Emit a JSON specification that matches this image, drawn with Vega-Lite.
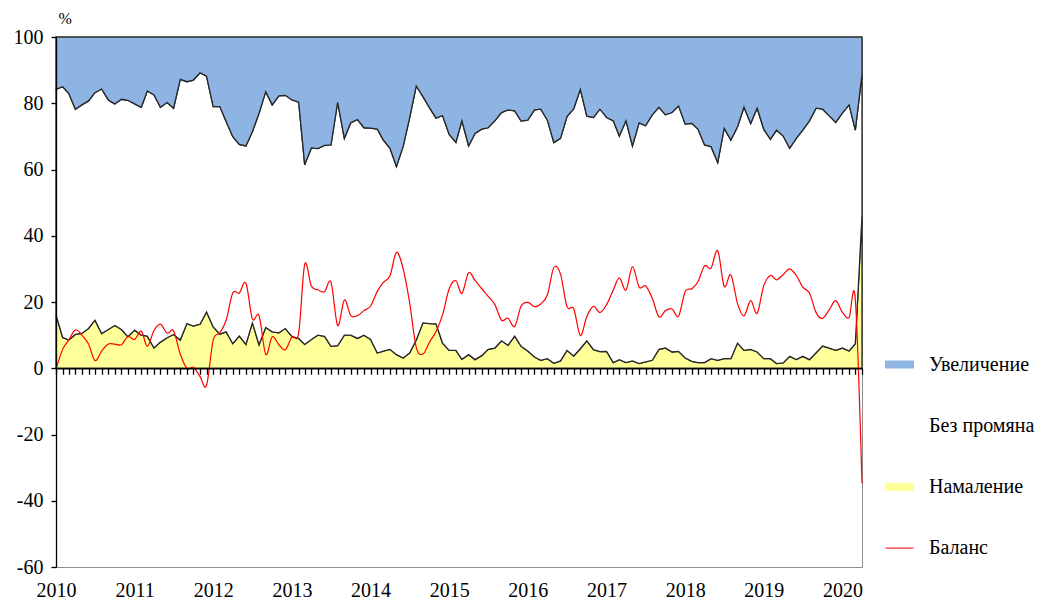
{
  "$schema": "https://vega.github.io/schema/vega-lite/v6.json",
  "width": 806,
  "height": 530,
  "autosize": "none",
  "padding": {"left": 56, "top": 37, "right": 175, "bottom": 33},
  "background": "white",
  "config": {
    "font": "Liberation Serif, Times New Roman, serif",
    "view": {"stroke": "#8c8c8c", "strokeWidth": 1},
    "axis": {"grid": false, "labelColor": "#000000", "labelFont": "Liberation Serif, Times New Roman, serif", "titleFont": "Liberation Serif, Times New Roman, serif"},
    "legend": {"labelFont": "Liberation Serif, Times New Roman, serif"}
  },
  "data": {"values": [
    {"month": "2010-01-01", "Увеличение": 15.8, "Без промяна": 68.2, "Намаление": 16.0, "Баланс": -0.2},
    {"month": "2010-02-01", "Увеличение": 15.0, "Без промяна": 75.7, "Намаление": 9.3, "Баланс": 5.7},
    {"month": "2010-03-01", "Увеличение": 17.0, "Без промяна": 74.5, "Намаление": 8.5, "Баланс": 8.5},
    {"month": "2010-04-01", "Увеличение": 21.8, "Без промяна": 68.0, "Намаление": 10.2, "Баланс": 11.6},
    {"month": "2010-05-01", "Увеличение": 20.5, "Без промяна": 69.0, "Намаление": 10.5, "Баланс": 10.0},
    {"month": "2010-06-01", "Увеличение": 19.3, "Без промяна": 68.7, "Намаление": 12.0, "Баланс": 7.3},
    {"month": "2010-07-01", "Увеличение": 16.8, "Без промяна": 68.7, "Намаление": 14.5, "Баланс": 2.3},
    {"month": "2010-08-01", "Увеличение": 15.7, "Без промяна": 73.8, "Намаление": 10.5, "Баланс": 5.2},
    {"month": "2010-09-01", "Увеличение": 19.0, "Без промяна": 69.3, "Намаление": 11.7, "Баланс": 7.3},
    {"month": "2010-10-01", "Увеличение": 20.2, "Без промяна": 66.9, "Намаление": 12.9, "Баланс": 7.3},
    {"month": "2010-11-01", "Увеличение": 18.8, "Без промяна": 69.5, "Намаление": 11.7, "Баланс": 7.1},
    {"month": "2010-12-01", "Увеличение": 19.1, "Без промяна": 71.4, "Намаление": 9.5, "Баланс": 9.6},
    {"month": "2011-01-01", "Увеличение": 20.2, "Без промяна": 68.3, "Намаление": 11.5, "Баланс": 8.7},
    {"month": "2011-02-01", "Увеличение": 21.2, "Без промяна": 68.8, "Намаление": 10.0, "Баланс": 11.2},
    {"month": "2011-03-01", "Увеличение": 16.3, "Без промяна": 74.0, "Намаление": 9.7, "Баланс": 6.6},
    {"month": "2011-04-01", "Увеличение": 17.5, "Без промяна": 76.4, "Намаление": 6.1, "Баланс": 11.4},
    {"month": "2011-05-01", "Увеличение": 21.2, "Без промяна": 70.9, "Намаление": 7.9, "Баланс": 13.3},
    {"month": "2011-06-01", "Увеличение": 19.8, "Без промяна": 71.0, "Намаление": 9.2, "Баланс": 10.6},
    {"month": "2011-07-01", "Увеличение": 21.5, "Без промяна": 68.3, "Намаление": 10.2, "Баланс": 11.3},
    {"month": "2011-08-01", "Увеличение": 12.8, "Без промяна": 78.7, "Намаление": 8.5, "Баланс": 4.3},
    {"month": "2011-09-01", "Увеличение": 13.5, "Без промяна": 73.0, "Намаление": 13.5, "Баланс": 0.0},
    {"month": "2011-10-01", "Увеличение": 13.0, "Без промяна": 74.3, "Намаление": 12.7, "Баланс": 0.3},
    {"month": "2011-11-01", "Увеличение": 10.8, "Без промяна": 75.9, "Намаление": 13.3, "Баланс": -2.5},
    {"month": "2011-12-01", "Увеличение": 11.8, "Без промяна": 71.2, "Намаление": 17.0, "Баланс": -5.2},
    {"month": "2012-01-01", "Увеличение": 21.0, "Без промяна": 66.5, "Намаление": 12.5, "Баланс": 8.5},
    {"month": "2012-02-01", "Увеличение": 21.0, "Без промяна": 68.7, "Намаление": 10.3, "Баланс": 10.7},
    {"month": "2012-03-01", "Увеличение": 25.5, "Без промяна": 63.5, "Намаление": 11.0, "Баланс": 14.5},
    {"month": "2012-04-01", "Увеличение": 30.1, "Без промяна": 62.5, "Намаление": 7.4, "Баланс": 22.7},
    {"month": "2012-05-01", "Увеличение": 32.4, "Без промяна": 57.9, "Намаление": 9.7, "Баланс": 22.7},
    {"month": "2012-06-01", "Увеличение": 32.9, "Без промяна": 59.9, "Намаление": 7.2, "Баланс": 25.7},
    {"month": "2012-07-01", "Увеличение": 28.6, "Без промяна": 57.7, "Намаление": 13.7, "Баланс": 14.9},
    {"month": "2012-08-01", "Увеличение": 23.0, "Без промяна": 69.9, "Намаление": 7.1, "Баланс": 15.9},
    {"month": "2012-09-01", "Увеличение": 16.5, "Без промяна": 71.2, "Намаление": 12.3, "Баланс": 4.2},
    {"month": "2012-10-01", "Увеличение": 20.5, "Без промяна": 68.5, "Намаление": 11.0, "Баланс": 9.5},
    {"month": "2012-11-01", "Увеличение": 17.8, "Без промяна": 71.5, "Намаление": 10.7, "Баланс": 7.1},
    {"month": "2012-12-01", "Увеличение": 17.6, "Без промяна": 70.4, "Намаление": 12.0, "Баланс": 5.6},
    {"month": "2013-01-01", "Увеличение": 19.0, "Без промяна": 71.5, "Намаление": 9.5, "Баланс": 9.5},
    {"month": "2013-02-01", "Увеличение": 19.7, "Без промяна": 71.3, "Намаление": 9.0, "Баланс": 10.7},
    {"month": "2013-03-01", "Увеличение": 38.6, "Без промяна": 54.2, "Намаление": 7.2, "Баланс": 31.4},
    {"month": "2013-04-01", "Увеличение": 33.5, "Без промяна": 57.8, "Намаление": 8.7, "Баланс": 24.8},
    {"month": "2013-05-01", "Увеличение": 33.7, "Без промяна": 56.3, "Намаление": 10.0, "Баланс": 23.7},
    {"month": "2013-06-01", "Увеличение": 32.7, "Без промяна": 57.7, "Намаление": 9.6, "Баланс": 23.1},
    {"month": "2013-07-01", "Увеличение": 32.6, "Без промяна": 60.8, "Намаление": 6.6, "Баланс": 26.0},
    {"month": "2013-08-01", "Увеличение": 19.7, "Без промяна": 73.5, "Намаление": 6.8, "Баланс": 12.9},
    {"month": "2013-09-01", "Увеличение": 30.6, "Без промяна": 59.4, "Намаление": 10.0, "Баланс": 20.6},
    {"month": "2013-10-01", "Увеличение": 25.9, "Без промяна": 64.1, "Намаление": 10.0, "Баланс": 15.9},
    {"month": "2013-11-01", "Увеличение": 24.9, "Без промяна": 66.1, "Намаление": 9.0, "Баланс": 15.9},
    {"month": "2013-12-01", "Увеличение": 27.4, "Без промяна": 62.6, "Намаление": 10.0, "Баланс": 17.4},
    {"month": "2014-01-01", "Увеличение": 27.5, "Без промяна": 63.8, "Намаление": 8.7, "Баланс": 18.8},
    {"month": "2014-02-01", "Увеличение": 27.8, "Без промяна": 67.6, "Намаление": 4.6, "Баланс": 23.2},
    {"month": "2014-03-01", "Увеличение": 31.1, "Без промяна": 63.7, "Намаление": 5.2, "Баланс": 25.9},
    {"month": "2014-04-01", "Увеличение": 33.6, "Без промяна": 60.7, "Намаление": 5.7, "Баланс": 27.9},
    {"month": "2014-05-01", "Увеличение": 39.1, "Без промяна": 56.8, "Намаление": 4.1, "Баланс": 35.0},
    {"month": "2014-06-01", "Увеличение": 33.1, "Без промяна": 63.8, "Намаление": 3.1, "Баланс": 30.0},
    {"month": "2014-07-01", "Увеличение": 24.5, "Без промяна": 70.9, "Намаление": 4.6, "Баланс": 19.9},
    {"month": "2014-08-01", "Увеличение": 14.8, "Без промяна": 76.7, "Намаление": 8.5, "Баланс": 6.3},
    {"month": "2014-09-01", "Увеличение": 18.0, "Без промяна": 68.3, "Намаление": 13.7, "Баланс": 4.3},
    {"month": "2014-10-01", "Увеличение": 21.3, "Без промяна": 65.2, "Намаление": 13.5, "Баланс": 7.8},
    {"month": "2014-11-01", "Увеличение": 24.5, "Без промяна": 62.1, "Намаление": 13.4, "Баланс": 11.1},
    {"month": "2014-12-01", "Увеличение": 23.7, "Без промяна": 68.7, "Намаление": 7.6, "Баланс": 16.1},
    {"month": "2015-01-01", "Увеличение": 29.4, "Без промяна": 65.2, "Намаление": 5.4, "Баланс": 24.0},
    {"month": "2015-02-01", "Увеличение": 31.8, "Без промяна": 62.8, "Намаление": 5.4, "Баланс": 26.4},
    {"month": "2015-03-01", "Увеличение": 25.3, "Без промяна": 72.0, "Намаление": 2.7, "Баланс": 22.6},
    {"month": "2015-04-01", "Увеличение": 32.9, "Без промяна": 63.0, "Намаление": 4.1, "Баланс": 28.8},
    {"month": "2015-05-01", "Увеличение": 29.1, "Без промяна": 68.3, "Намаление": 2.6, "Баланс": 26.5},
    {"month": "2015-06-01", "Увеличение": 27.8, "Без промяна": 68.4, "Намаление": 3.8, "Баланс": 24.0},
    {"month": "2015-07-01", "Увеличение": 27.4, "Без промяна": 66.9, "Намаление": 5.7, "Баланс": 21.7},
    {"month": "2015-08-01", "Увеличение": 25.3, "Без промяна": 68.6, "Намаление": 6.1, "Баланс": 19.2},
    {"month": "2015-09-01", "Увеличение": 22.8, "Без промяна": 68.9, "Намаление": 8.3, "Баланс": 14.5},
    {"month": "2015-10-01", "Увеличение": 22.0, "Без промяна": 71.1, "Намаление": 6.9, "Баланс": 15.1},
    {"month": "2015-11-01", "Увеличение": 22.3, "Без промяна": 68.0, "Намаление": 9.7, "Баланс": 12.6},
    {"month": "2015-12-01", "Увеличение": 25.4, "Без промяна": 68.0, "Намаление": 6.6, "Баланс": 18.8},
    {"month": "2016-01-01", "Увеличение": 25.1, "Без промяна": 69.7, "Намаление": 5.2, "Баланс": 19.9},
    {"month": "2016-02-01", "Увеличение": 22.0, "Без промяна": 74.6, "Намаление": 3.4, "Баланс": 18.6},
    {"month": "2016-03-01", "Увеличение": 21.8, "Без промяна": 75.8, "Намаление": 2.4, "Баланс": 19.4},
    {"month": "2016-04-01", "Увеличение": 25.1, "Без промяна": 72.0, "Намаление": 2.9, "Баланс": 22.2},
    {"month": "2016-05-01", "Увеличение": 31.9, "Без промяна": 66.6, "Намаление": 1.5, "Баланс": 30.4},
    {"month": "2016-06-01", "Увеличение": 30.6, "Без промяна": 67.2, "Намаление": 2.2, "Баланс": 28.4},
    {"month": "2016-07-01", "Увеличение": 24.0, "Без промяна": 70.6, "Намаление": 5.4, "Баланс": 18.6},
    {"month": "2016-08-01", "Увеличение": 21.7, "Без промяна": 74.6, "Намаление": 3.7, "Баланс": 18.0},
    {"month": "2016-09-01", "Увеличение": 15.8, "Без промяна": 78.3, "Намаление": 5.9, "Баланс": 9.9},
    {"month": "2016-10-01", "Увеличение": 23.9, "Без промяна": 67.8, "Намаление": 8.3, "Баланс": 15.6},
    {"month": "2016-11-01", "Увеличение": 24.3, "Без промяна": 70.1, "Намаление": 5.6, "Баланс": 18.7},
    {"month": "2016-12-01", "Увеличение": 21.8, "Без промяна": 73.2, "Намаление": 5.0, "Баланс": 16.8},
    {"month": "2017-01-01", "Увеличение": 24.3, "Без промяна": 70.6, "Намаление": 5.1, "Баланс": 19.2},
    {"month": "2017-02-01", "Увеличение": 25.3, "Без промяна": 73.0, "Намаление": 1.7, "Баланс": 23.6},
    {"month": "2017-03-01", "Увеличение": 29.9, "Без промяна": 67.5, "Намаление": 2.6, "Баланс": 27.3},
    {"month": "2017-04-01", "Увеличение": 25.3, "Без промяна": 73.0, "Намаление": 1.7, "Баланс": 23.6},
    {"month": "2017-05-01", "Увеличение": 32.9, "Без промяна": 64.9, "Намаление": 2.2, "Баланс": 30.7},
    {"month": "2017-06-01", "Увеличение": 25.9, "Без промяна": 72.7, "Намаление": 1.4, "Баланс": 24.5},
    {"month": "2017-07-01", "Увеличение": 26.8, "Без промяна": 71.3, "Намаление": 1.9, "Баланс": 24.9},
    {"month": "2017-08-01", "Увеличение": 23.5, "Без промяна": 74.1, "Намаление": 2.4, "Баланс": 21.1},
    {"month": "2017-09-01", "Увеличение": 21.2, "Без промяна": 73.1, "Намаление": 5.7, "Баланс": 15.5},
    {"month": "2017-10-01", "Увеличение": 23.5, "Без промяна": 70.4, "Намаление": 6.1, "Баланс": 17.4},
    {"month": "2017-11-01", "Увеличение": 22.8, "Без промяна": 72.3, "Намаление": 4.9, "Баланс": 17.9},
    {"month": "2017-12-01", "Увеличение": 20.8, "Без промяна": 74.1, "Намаление": 5.1, "Баланс": 15.7},
    {"month": "2018-01-01", "Увеличение": 26.3, "Без промяна": 70.6, "Намаление": 3.1, "Баланс": 23.2},
    {"month": "2018-02-01", "Увеличение": 26.1, "Без промяна": 71.8, "Намаление": 2.1, "Баланс": 24.0},
    {"month": "2018-03-01", "Увеличение": 27.8, "Без промяна": 70.5, "Намаление": 1.7, "Баланс": 26.1},
    {"month": "2018-04-01", "Увеличение": 32.6, "Без промяна": 65.7, "Намаление": 1.7, "Баланс": 30.9},
    {"month": "2018-05-01", "Увеличение": 33.1, "Без промяна": 64.0, "Намаление": 2.9, "Баланс": 30.2},
    {"month": "2018-06-01", "Увеличение": 37.9, "Без промяна": 59.7, "Намаление": 2.4, "Баланс": 35.5},
    {"month": "2018-07-01", "Увеличение": 27.6, "Без промяна": 69.5, "Намаление": 2.9, "Баланс": 24.7},
    {"month": "2018-08-01", "Увеличение": 31.1, "Без промяна": 66.0, "Намаление": 2.9, "Баланс": 28.2},
    {"month": "2018-09-01", "Увеличение": 27.1, "Без промяна": 65.3, "Намаление": 7.6, "Баланс": 19.5},
    {"month": "2018-10-01", "Увеличение": 21.2, "Без промяна": 73.4, "Намаление": 5.4, "Баланс": 15.8},
    {"month": "2018-11-01", "Увеличение": 26.1, "Без промяна": 68.2, "Намаление": 5.7, "Баланс": 20.4},
    {"month": "2018-12-01", "Увеличение": 21.5, "Без промяна": 73.6, "Намаление": 4.9, "Баланс": 16.6},
    {"month": "2019-01-01", "Увеличение": 27.9, "Без промяна": 69.2, "Намаление": 2.9, "Баланс": 25.0},
    {"month": "2019-02-01", "Увеличение": 30.9, "Без промяна": 66.2, "Намаление": 2.9, "Баланс": 28.0},
    {"month": "2019-03-01", "Увеличение": 28.1, "Без промяна": 70.5, "Намаление": 1.4, "Баланс": 26.7},
    {"month": "2019-04-01", "Увеличение": 29.9, "Без промяна": 68.5, "Намаление": 1.6, "Баланс": 28.3},
    {"month": "2019-05-01", "Увеличение": 33.6, "Без промяна": 62.8, "Намаление": 3.6, "Баланс": 30.0},
    {"month": "2019-06-01", "Увеличение": 30.6, "Без промяна": 66.8, "Намаление": 2.6, "Баланс": 28.0},
    {"month": "2019-07-01", "Увеличение": 28.1, "Без промяна": 68.3, "Намаление": 3.6, "Баланс": 24.5},
    {"month": "2019-08-01", "Увеличение": 25.3, "Без промяна": 72.1, "Намаление": 2.6, "Баланс": 22.7},
    {"month": "2019-09-01", "Увеличение": 21.5, "Без промяна": 73.8, "Намаление": 4.7, "Баланс": 16.8},
    {"month": "2019-10-01", "Увеличение": 21.8, "Без промяна": 71.5, "Намаление": 6.7, "Баланс": 15.1},
    {"month": "2019-11-01", "Увеличение": 23.8, "Без промяна": 70.1, "Намаление": 6.1, "Баланс": 17.7},
    {"month": "2019-12-01", "Увеличение": 25.8, "Без промяна": 68.8, "Намаление": 5.4, "Баланс": 20.4},
    {"month": "2020-01-01", "Увеличение": 23.0, "Без промяна": 70.9, "Намаление": 6.1, "Баланс": 16.9},
    {"month": "2020-02-01", "Увеличение": 20.5, "Без промяна": 74.3, "Намаление": 5.2, "Баланс": 15.3},
    {"month": "2020-03-01", "Увеличение": 28.1, "Без промяна": 64.5, "Намаление": 7.4, "Баланс": 20.7},
    {"month": "2020-04-01", "Увеличение": 11.3, "Без промяна": 42.7, "Намаление": 46.0, "Баланс": -34.7}
  ]},
  "transform": [
    {"fold": ["Намаление", "Без промяна", "Увеличение", "Баланс"], "as": ["series", "value"]}
  ],
  "layer": [
    {
      "transform": [
        {"filter": "datum.series !== 'Баланс'"},
        {"window": [{"op": "row_number", "as": "rank"}], "groupby": ["month"]}
      ],
      "mark": {"type": "area", "strokeWidth": 1.3, "strokeJoin": "miter"},
      "encoding": {
        "x": {
          "field": "month", "type": "temporal",
          "scale": {"type": "utc", "domain": [{"year": 2010, "month": 1, "date": 1, "utc": true}, {"year": 2020, "month": 4, "date": 1, "utc": true}]},
          "axis": {
            "orient": "bottom", "title": null, "format": "%Y", "domain": false, "ticks": false,
            "labelFontSize": 20, "labelPadding": 13, "labelFlush": false, "labelOverlap": false,
            "values": [
              {"year": 2010, "month": 1, "date": 1, "utc": true},
              {"year": 2011, "month": 1, "date": 1, "utc": true},
              {"year": 2012, "month": 1, "date": 1, "utc": true},
              {"year": 2013, "month": 1, "date": 1, "utc": true},
              {"year": 2014, "month": 1, "date": 1, "utc": true},
              {"year": 2015, "month": 1, "date": 1, "utc": true},
              {"year": 2016, "month": 1, "date": 1, "utc": true},
              {"year": 2017, "month": 1, "date": 1, "utc": true},
              {"year": 2018, "month": 1, "date": 1, "utc": true},
              {"year": 2019, "month": 1, "date": 1, "utc": true},
              {"year": 2020, "month": 1, "date": 1, "utc": true}
            ]
          }
        },
        "y": {
          "field": "value", "type": "quantitative", "stack": "zero",
          "scale": {"domain": [-60, 100], "nice": false, "zero": false},
          "axis": {
            "title": "%", "titleAngle": 0, "titleFontSize": 16, "titleFontWeight": "normal",
            "titleX": 2, "titleY": -19, "titleAlign": "left", "titleBaseline": "middle",
            "values": [-60, -40, -20, 0, 20, 40, 60, 80, 100],
            "labelExpr": "'' + datum.value",
            "domainColor": "#000000", "domainWidth": 1.3, "tickColor": "#000000", "tickSize": 5, "tickWidth": 1.3,
            "labelFontSize": 20, "labelPadding": 8, "zindex": 1
          }
        },
        "order": {"field": "rank", "type": "quantitative", "sort": "ascending"},
        "color": {
          "field": "series", "type": "nominal",
          "scale": {"domain": ["Увеличение", "Без промяна", "Намаление", "Баланс"], "range": ["#8DB4E2", "#FFFFFF", "#FFFF99", "#FF0000"]},
          "legend": {
            "orient": "none", "legendX": 829, "legendY": 313, "title": null, "direction": "vertical",
            "padding": 0, "rowPadding": 36.2, "symbolType": "M-1,-0.25H1V0.25H-1Z", "symbolSize": 784,
            "labelFontSize": 20, "labelOffset": 15, "labelColor": "#000000",
            "symbolStrokeWidth": 1, "symbolOpacity": 1,
            "encode": {
              "symbols": {
                "update": {
                  "shape": {"signal": "datum.value === 'Баланс' ? 'M-1,0H1' : 'M-1,-0.25H1V0.25H-1Z'"},
                  "strokeWidth": {"value": 1},
                  "opacity": {"value": 1}
                }
              }
            }
          }
        },
        "stroke": {
          "field": "series", "type": "nominal",
          "scale": {"domain": ["Увеличение", "Без промяна", "Намаление", "Баланс"], "range": ["#262626", "#262626", "#262626", "#FF0000"]},
          "legend": {
            "orient": "none", "legendX": 829, "legendY": 313, "title": null, "direction": "vertical",
            "padding": 0, "rowPadding": 36.2, "symbolType": "M-1,-0.25H1V0.25H-1Z", "symbolSize": 784,
            "labelFontSize": 20, "labelOffset": 15, "labelColor": "#000000",
            "symbolStrokeWidth": 1, "symbolOpacity": 1,
            "encode": {
              "symbols": {
                "update": {
                  "shape": {"signal": "datum.value === 'Баланс' ? 'M-1,0H1' : 'M-1,-0.25H1V0.25H-1Z'"},
                  "strokeWidth": {"value": 1},
                  "opacity": {"value": 1}
                }
              }
            }
          }
        }
      }
    },
    {
      "transform": [{"filter": "datum.series === 'Баланс'"}],
      "mark": {"type": "line", "interpolate": "cardinal", "strokeWidth": 1.2},
      "encoding": {
        "x": {
          "field": "month", "type": "temporal",
          "axis": {
            "orient": "bottom", "offset": -198.75, "title": null, "labels": false, "grid": false,
            "domain": true, "domainColor": "#000000", "domainWidth": 1.3,
            "ticks": true, "tickColor": "#000000", "tickSize": 6, "tickWidth": 1.3,
            "tickCount": {"interval": "month", "step": 1}, "zindex": 1
          }
        },
        "y": {"field": "value", "type": "quantitative"},
        "color": {"field": "series", "type": "nominal", "legend": null}
      }
    }
  ],
  "resolve": {"axis": {"x": "independent"}}
}
